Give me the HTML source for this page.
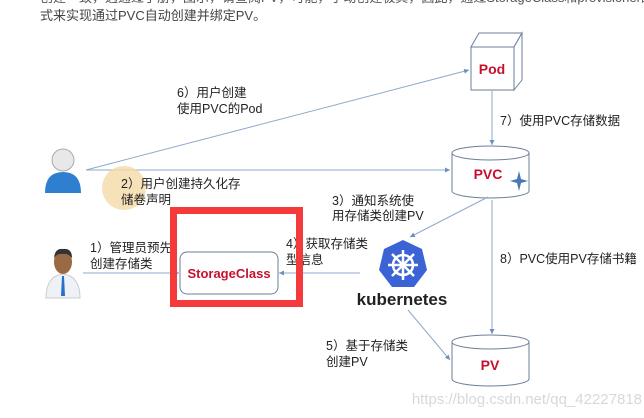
<!DOCTYPE html>
<html><head><meta charset="utf-8"><style>
html,body{margin:0;padding:0;background:#fff;}
svg{display:block;}
text{font-family:"Liberation Sans","Noto Sans CJK SC",sans-serif;}
</style></head><body>
<svg width="644" height="418" viewBox="0 0 644 418" xmlns="http://www.w3.org/2000/svg">
<defs>
<marker id="a" markerWidth="6" markerHeight="6" refX="5" refY="3" orient="auto"><path d="M0,0.5 L5,3 L0,5.5 z" fill="#6d8fc0"/></marker>
</defs>
<text x="40" y="2" font-size="13" fill="#555">创建一致，遇通过手册，图示，请查阅PV，可能，手动创建极其，因此，通过StorageClass和provisioner的方</text>
<text x="40" y="20" font-size="13" fill="#444">式来实现通过PVC自动创建并绑定PV。</text>

<g stroke="#6b7f99" stroke-width="1" fill="#fff">
<path d="M471,47 L479,33 L522,33 L514,47 Z"/>
<path d="M514,47 L522,33 L522,80 L514,90 Z"/>
<rect x="471" y="47" width="43" height="43"/>
</g>
<text x="492" y="74" font-size="14" font-weight="bold" fill="#c8102e" text-anchor="middle">Pod</text>

<g stroke="#6b7f99" stroke-width="1" fill="#fff">
<path d="M452,153 L452,191 A38.5,7 0 0 0 529,191 L529,153"/>
<ellipse cx="490.5" cy="153" rx="38.5" ry="7"/>
</g>
<text x="488" y="179" font-size="14" font-weight="bold" fill="#c8102e" text-anchor="middle">PVC</text>
<path d="M519,171 L521,179 L528,181 L521,183 L519,191 L517,183 L510,181 L517,179 Z" fill="#4a78b0"/>

<g stroke="#6b7f99" stroke-width="1" fill="#fff">
<path d="M452,342 L452,379 A38.5,7 0 0 0 529,379 L529,342"/>
<ellipse cx="490.5" cy="342" rx="38.5" ry="7"/>
</g>
<text x="490" y="370" font-size="14" font-weight="bold" fill="#c8102e" text-anchor="middle">PV</text>

<g stroke="#8fa8cc" stroke-width="1" fill="none" marker-end="url(#a)">
<line x1="86" y1="170" x2="469" y2="70"/>
<line x1="86" y1="170" x2="450" y2="170"/>
<line x1="492" y1="90" x2="492" y2="145"/>
<line x1="488" y1="197" x2="410" y2="237"/>
<line x1="492" y1="200" x2="492" y2="334"/>
<line x1="83" y1="273" x2="179" y2="273"/>
<line x1="360" y1="273" x2="279" y2="273"/>
<line x1="408" y1="310" x2="450" y2="360"/>
</g>

<circle cx="63" cy="160" r="11" fill="#e8e8e8" stroke="#aaa"/>
<path d="M45,193 Q45,172 63,172 Q81,172 81,193 Z" fill="#2f7fd0"/>

<circle cx="124" cy="188" r="22" fill="#f5d9a8" opacity="0.8"/>

<path d="M46,298 Q46,276 63,274 Q80,276 80,298 Z" fill="#eef2f7" stroke="#ccc"/>
<path d="M62,276 L64,276 L65,296 L61,296 Z" fill="#2a6fc9"/>
<ellipse cx="63" cy="262" rx="9" ry="12" fill="#9a6a45"/>
<path d="M54,258 Q55,248 63,249 Q72,248 72,258 Q68,253 63,254 Q57,253 54,258 Z" fill="#333"/>

<g font-size="12.5" fill="#222">
<text x="177" y="97">6）用户创建</text>
<text x="177" y="113">使用PVC的Pod</text>
<text x="500" y="125">7）使用PVC存储数据</text>
<text x="121" y="188">2）用户创建持久化存</text>
<text x="121" y="204">储卷声明</text>
<text x="332" y="205">3）通知系统使</text>
<text x="332" y="220">用存储类创建PV</text>
<text x="90" y="252">1）管理员预先</text>
<text x="90" y="268">创建存储类</text>
<text x="286" y="248">4）获取存储类</text>
<text x="286" y="264">型信息</text>
<text x="500" y="263">8）PVC使用PV存储书籍</text>
<text x="326" y="350">5）基于存储类</text>
<text x="326" y="366">创建PV</text>
</g>

<rect x="180" y="252" width="98" height="42" rx="7" fill="#fff" stroke="#6b7f99"/>
<text x="229" y="278" font-size="13" font-weight="bold" fill="#c8102e" text-anchor="middle">StorageClass</text>
<rect x="173.5" y="210.5" width="126" height="93" fill="none" stroke="#f43a3a" stroke-width="7"/>

<polygon points="403,240 422,249 427,270 414,287 392,287 379,270 384,249" fill="#3b63d6"/>
<g stroke="#fff" stroke-width="2.5" fill="none">
<circle cx="403" cy="265" r="10"/>
<line x1="403" y1="250" x2="403" y2="280"/>
<line x1="388" y1="265" x2="418" y2="265"/>
<line x1="392" y1="254" x2="414" y2="276"/>
<line x1="414" y1="254" x2="392" y2="276"/>
</g>
<circle cx="403" cy="265" r="3" fill="#fff"/>
<text x="402" y="305" font-size="17" font-weight="bold" fill="#222" text-anchor="middle">kubernetes</text>

<text x="642" y="404" font-size="15" fill="#d8d8d8" text-anchor="end">https://blog.csdn.net/qq_42227818</text>
</svg>
</body></html>
